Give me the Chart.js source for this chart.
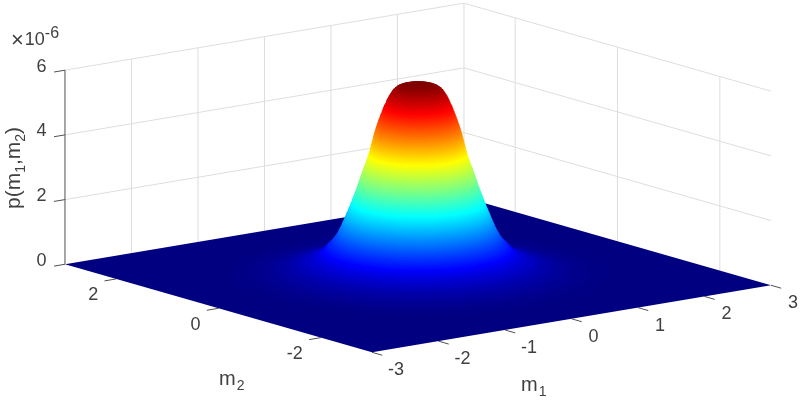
<!DOCTYPE html>
<html>
<head>
<meta charset="utf-8">
<title>p(m1,m2)</title>
<style>
  html, body { margin: 0; padding: 0; background: #fff; }
  canvas { display: block; filter: blur(0.35px); }
</style>
<script src="https://cdn.jsdelivr.net/npm/chart.js@4"></script>
</head>
<body>
<canvas id="surface" width="800" height="402"></canvas>
<script>
/* Surface: it is round, so one height/radius profile describes it. */

var m1Ticks = [-3, -2, -1, 0, 1, 2, 3];
var m2Ticks = [-2, 0, 2];
var pTicks = [0, 2, 4, 6];

// height of each ring in units of 1e-6
var ringHeights = [
  0.01, 0.02, 0.03, 0.05, 0.07, 0.1, 0.13, 0.16, 0.2, 0.25,
  0.3, 0.35, 0.4, 0.45, 0.5, 0.55, 0.6, 0.65, 0.7, 0.75,
  0.8, 0.85, 0.9, 0.95, 1, 1.05, 1.1, 1.15, 1.2, 1.25,
  1.3, 1.35, 1.4, 1.45, 1.5, 1.55, 1.6, 1.65, 1.7, 1.75,
  1.8, 1.85, 1.9, 1.95, 2, 2.05, 2.1, 2.15, 2.2, 2.25,
  2.3, 2.35, 2.4, 2.45, 2.5, 2.55, 2.6, 2.65, 2.7, 2.75,
  2.8, 2.85, 2.9, 2.95, 3, 3.05, 3.1, 3.15, 3.2, 3.25,
  3.3, 3.35, 3.4, 3.45, 3.5, 3.55, 3.6, 3.65, 3.7, 3.75,
  3.8, 3.85, 3.9, 3.95, 4, 4.05, 4.1, 4.15, 4.2, 4.25,
  4.3, 4.35, 4.4, 4.45, 4.5, 4.55, 4.6, 4.65, 4.7, 4.75,
  4.8, 4.85, 4.9, 4.95, 5, 5.05, 5.1, 5.15, 5.2, 5.25,
  5.3, 5.35, 5.4, 5.45, 5.5, 5.55, 5.6, 5.65, 5.7, 5.75,
  5.8, 5.83, 5.86, 5.88, 5.89
];

// radius of each ring in (m1, m2) units
var ringRadii = [
  2.45, 2.3, 2.2, 2.05, 1.95, 1.85, 1.77, 1.7, 1.62, 1.54,
  1.47, 1.41, 1.36, 1.3, 1.25, 1.215, 1.19, 1.165, 1.145, 1.13,
  1.11, 1.095, 1.075, 1.055, 1.035, 1.02, 1.005, 0.99, 0.977, 0.965,
  0.955, 0.945, 0.935, 0.925, 0.917, 0.908, 0.9, 0.892, 0.883, 0.875,
  0.867, 0.858, 0.85, 0.842, 0.834, 0.826, 0.818, 0.81, 0.802, 0.795,
  0.787, 0.78, 0.773, 0.765, 0.758, 0.75, 0.742, 0.736, 0.73, 0.722,
  0.715, 0.708, 0.702, 0.696, 0.69, 0.683, 0.676, 0.669, 0.662, 0.655,
  0.648, 0.64, 0.633, 0.626, 0.62, 0.612, 0.606, 0.6, 0.594, 0.588,
  0.582, 0.577, 0.572, 0.567, 0.562, 0.557, 0.552, 0.547, 0.542, 0.537,
  0.532, 0.527, 0.521, 0.515, 0.509, 0.503, 0.497, 0.49, 0.483, 0.477,
  0.47, 0.463, 0.455, 0.448, 0.44, 0.432, 0.425, 0.418, 0.41, 0.4,
  0.39, 0.383, 0.375, 0.365, 0.355, 0.343, 0.33, 0.318, 0.305, 0.285,
  0.26, 0.24, 0.21, 0.18, 0.16
];

var colorMax = 5.9;
var axisMin = -3;
var axisMax = 3;
var pMax = 6;

// view of the 3D box on the flat x/y scales
var view = {
  originX: 372, originY: 352.3,
  m1X: 66.5, m1Y: -11.17,
  m2X: -51.17, m2Y: -14.67,
  pY: -32.35
};

var gridColor = '#dedede';
var axisColor = '#505050';
var textColor = '#404040';
var fontName = '"Liberation Sans", Arial, sans-serif';

function project(m1, m2, p) {
  var a = m1 - axisMin;
  var b = m2 - axisMin;
  return {
    x: view.originX + a * view.m1X + b * view.m2X,
    y: view.originY + a * view.m1Y + b * view.m2Y + p * view.pY
  };
}

function jet(t) {
  function part(v) { return Math.round(255 * Math.max(0, Math.min(1, 1.5 - Math.abs(4 * t - v)))); }
  return 'rgb(' + part(3) + ',' + part(2) + ',' + part(1) + ')';
}

function lineSet(points, color) {
  return { data: points, borderColor: color, borderWidth: 1, fill: false };
}

function shapeSet(points, color) {
  return { data: points, backgroundColor: color, borderWidth: 0, fill: 'shape' };
}

function ringPoints(radius, height) {
  var pts = [];
  for (var i = 0; i <= 96; i++) {
    var a = i / 96 * 2 * Math.PI;
    pts.push(project(radius * Math.cos(a), radius * Math.sin(a), height));
  }
  return pts;
}

// listed back to front, reversed below because Chart.js paints the first dataset last
var layers = [];

// wall grid
pTicks.forEach(function (p) {
  if (p === 0) { return; }
  layers.push(lineSet([project(axisMin, axisMax, p), project(axisMax, axisMax, p), project(axisMax, axisMin, p)], gridColor));
});
m1Ticks.forEach(function (m) {
  if (m === axisMin) { return; }
  layers.push(lineSet([project(m, axisMax, 0), project(m, axisMax, pMax)], gridColor));
});
m2Ticks.forEach(function (m) {
  layers.push(lineSet([project(axisMax, m, 0), project(axisMax, m, pMax)], gridColor));
});

// z axis and ticks
layers.push(lineSet([project(axisMin, axisMax, 0), project(axisMin, axisMax, pMax)], axisColor));
pTicks.forEach(function (p) {
  layers.push(lineSet([project(axisMin, axisMax, p), project(axisMin - 0.165, axisMax, p)], axisColor));
});
m1Ticks.forEach(function (m) {
  layers.push(lineSet([project(m, axisMin, 0), project(m, axisMin - 0.2, 0)], axisColor));
});
m2Ticks.forEach(function (m) {
  layers.push(lineSet([project(axisMin, m, 0), project(axisMin - 0.175, m, 0)], axisColor));
});

// floor
layers.push(shapeSet([
  project(axisMin, axisMin, 0), project(axisMax, axisMin, 0),
  project(axisMax, axisMax, 0), project(axisMin, axisMax, 0),
  project(axisMin, axisMin, 0)
], jet(0)));

// rings, lowest first, so each one covers what is behind it
ringHeights.forEach(function (h, i) {
  layers.push(shapeSet(ringPoints(ringRadii[i], h), jet(h / colorMax)));
});

layers.reverse();

function pieces(ctx, parts, x, y) {
  // parts run along the baseline, sub/superscripts carry their own shift
  parts.forEach(function (part) {
    ctx.font = part.size + 'px ' + fontName;
    ctx.fillText(part.text, x, y + (part.shift || 0));
    x += ctx.measureText(part.text).width + (part.gap || 0);
  });
}

var labelsPlugin = {
  id: 'boxLabels',
  afterDraw: function (chart) {
    var ctx = chart.ctx;
    ctx.save();
    ctx.fillStyle = textColor;
    ctx.textAlign = 'center';
    ctx.textBaseline = 'middle';
    ctx.font = '18px ' + fontName;

    pTicks.forEach(function (p) {
      var c = project(axisMin, axisMax, p);
      ctx.fillText(String(p), c.x - 23.5, c.y - 3.5);
    });
    m1Ticks.forEach(function (m) {
      var c = project(m, axisMin, 0);
      ctx.fillText(String(m), c.x + (m < 0 ? 24 : 22), c.y + 18);
    });
    m2Ticks.forEach(function (m) {
      var c = project(axisMin, m, 0);
      ctx.fillText(String(m), c.x - (m < 0 ? 26 : 23), c.y + 16.5);
    });

    ctx.textAlign = 'left';
    ctx.textBaseline = 'alphabetic';

    // exponent
    pieces(ctx, [
      { text: '\u00d7', size: 22, gap: 1, shift: 1.5 },
      { text: '10', size: 18 },
      { text: '-6', size: 16, shift: -7 }
    ], 11, 45);

    // axis titles
    pieces(ctx, [{ text: 'm', size: 20, gap: 1 }, { text: '2', size: 14, shift: 5 }], 219, 385);
    pieces(ctx, [{ text: 'm', size: 20, gap: 1 }, { text: '1', size: 14, shift: 5 }], 521, 391);

    ctx.translate(19.5, 209);
    ctx.rotate(-Math.PI / 2);
    pieces(ctx, [
      { text: 'p(m', size: 21 },
      { text: '1', size: 14, shift: 5 },
      { text: ',m', size: 21 },
      { text: '2', size: 14, shift: 5 },
      { text: ')', size: 21 }
    ], 0, 0);
    ctx.restore();
  }
};

new Chart(document.getElementById('surface'), {
  type: 'line',
  data: { datasets: layers },
  plugins: [labelsPlugin],
  options: {
    responsive: false,
    animation: false,
    events: [],
    layout: { padding: 0 },
    elements: { point: { radius: 0 }, line: { tension: 0 } },
    plugins: { legend: { display: false }, tooltip: { enabled: false }, title: { display: false } },
    scales: {
      x: { type: 'linear', display: false, min: 0, max: 800 },
      y: { type: 'linear', display: false, min: 0, max: 402, reverse: true }
    }
  }
});
</script>
</body>
</html>
